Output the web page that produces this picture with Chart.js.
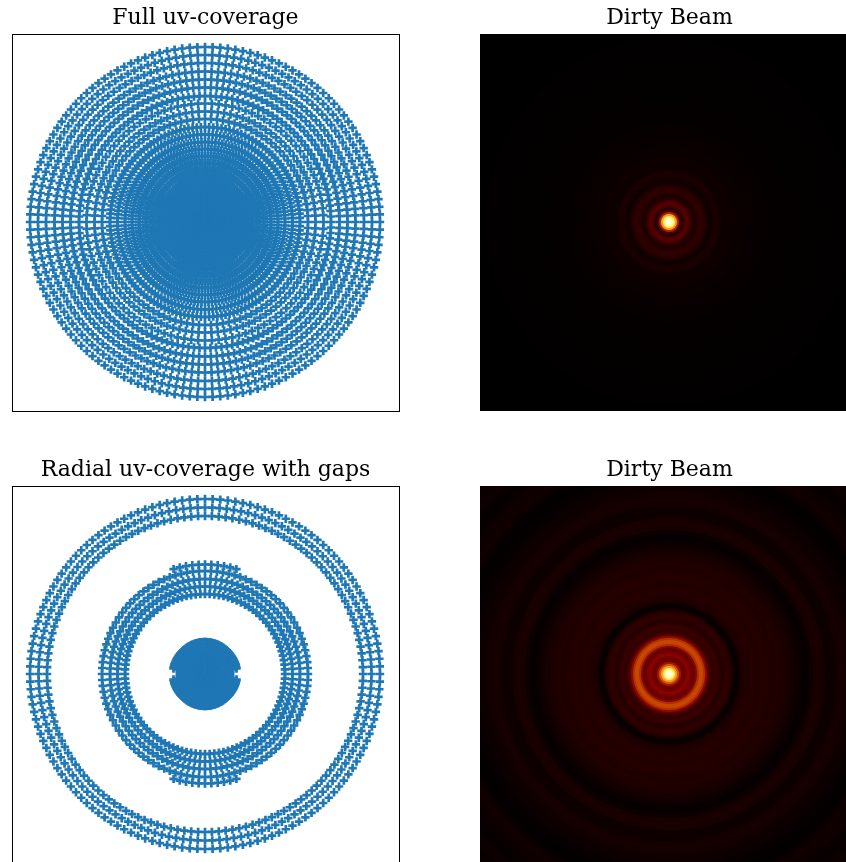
<!DOCTYPE html>
<html>
<head>
<meta charset="utf-8">
<title>uv-coverage and dirty beams</title>
<script src="https://cdn.jsdelivr.net/npm/chart.js@4/dist/chart.umd.min.js"></script>
<style>
    html, body { margin: 0; background: #fff; }
    body { position: relative; width: 846px; height: 862px; overflow: hidden; }
    canvas { position: absolute; }
</style>
</head>
<body>
<canvas id="fullUv" style="left:12px;top:0" width="388" height="412"></canvas>
<canvas id="fullBeam" style="left:480px;top:0" width="380" height="412"></canvas>
<canvas id="gapUv" style="left:12px;top:452px" width="388" height="412"></canvas>
<canvas id="gapBeam" style="left:480px;top:452px" width="380" height="412"></canvas>
<script>
// ring radii, one unit = one reference pixel from the centre
const fullRings = [175, 167, 159, 150.5, 142.5, 134.5, 126, 118.5, 110.5, 103, 95, 87.5, 80, 73, 66, 59, 52,
    45, 41.5, 38, 34.5, 31, 27.5, 24, 20.5, 17, 13.5, 10, 6.5, 3];
const fullStrides = [3, 3, 3, 3, 3, 3, 3, 4, 4, 4, 3, 3, 3, 3, 3, 3, 3,
    3, 3, 3, 3, 3, 3, 3, 3, 3, 3, 3, 3, 3];

const gapRings = [175, 166.5, 158, 103, 95, 87.5, 80, 25, 21.5, 18, 14.5, 11, 7.5, 4, 1];
const gapStrides = [3, 3, 3, 4, 4, 4, 4, 3, 3, 3, 3, 3, 3, 3, 3];

// rings of the gapped panel that only exist near the top and bottom
const capRings = [109.5];
const capHalfAngles = [19];
const capStrides = [4];

// blob rim, missing around left and right
const notchRings = [32, 28.5];
const notchHalfAngles = [10, 10];
const notchStrides = [3, 3];

// outer radius of each beam band
const beamRadii = [2, 4, 6, 8, 10, 12, 14, 16, 18, 20, 22, 24, 26, 28, 30, 32, 34, 36, 38, 40,
    42, 44, 46, 48, 50, 52, 54, 56, 58, 60, 62, 64, 66, 68, 70, 72, 74, 76, 78, 80,
    84, 88, 92, 96, 100, 104, 108, 112, 116, 120, 124, 128, 132, 136, 140, 144, 148, 152, 156, 160,
    164, 168, 172, 176, 180, 184, 188, 192, 196, 200, 204, 208, 212, 216, 220, 224, 228, 232, 236, 240,
    244, 248, 252, 256, 260, 264, 268, 272];

const fullBeamLevels = [.95, .85, .72, .55, .32, .14, .07, .12, .16, .16, .12, .08, .06, .06, .08, .09, .09, .08, .06, .04,
    .03, .035, .045, .05, .05, .04, .03, .025, .025, .03, .03, .03, .025, .02, .02, .02, .02, .02, .018, .015,
    .015, .015, .012, .012, .012, .01, .01, .01, .008, .008, .006, .006, .006, .005, .005, .005, .006, .006, .005, .004,
    .003, .003, .003, .003, .003, .003, .002, .002, .002, .002, .002, .002, .002, .002, .002, .002, .002, .002, .002, .002,
    .002, .002, .002, .002, .002, .002, .002, .002];

const gapBeamLevels = [1, .85, .72, .56, .42, .3, .23, .21, .24, .26, .25, .21, .2, .26, .34, .39, .39, .35, .27, .18,
    .12, .1, .1, .11, .1, .08, .07, .08, .09, .09, .08, .06, .03, .012, .015, .04, .055, .06, .065, .065,
    .07, .07, .065, .07, .07, .065, .06, .065, .06, .05, .045, .035, .025, .015, .012, .025, .045, .05, .045, .03,
    .025, .03, .04, .045, .04, .035, .03, .025, .02, .014, .012, .008, .008, .015, .03, .035, .03, .03, .02, .015,
    .015, .02, .025, .025, .02, .02, .02, .02];

const spokeCount = 432;
const spokes = Array.from({ length: spokeCount }, (_, i) => i);
const beamSpokes = spokes.filter(i => i % 3 === 0);

// degrees away from the vertical axis for a spoke
function offVertical(i) {
    const a = i / spokeCount * 360;
    return Math.min(a, Math.abs(180 - a), 360 - a);
}

function ring(radius, stride, keep) {
    const data = spokes.map(i => (i % stride === 0 && (!keep || keep(i))) ? radius : null);
    return {
        data: data,
        showLine: false,
        clip: 0,
        pointStyle: 'cross',
        pointRadius: 4.2,
        pointBorderWidth: 2.7,
        pointBorderColor: '#1f77b4'
    };
}

// afmhot
function beamColor(level) {
    const c = v => Math.round(255 * Math.max(0, Math.min(1, v)));
    return 'rgb(' + c(2 * level) + ',' + c(2 * level - 0.5) + ',' + c(2 * level - 1) + ')';
}

const framePlugin = {
    id: 'frame',
    afterDraw(chart) {
        const a = chart.chartArea;
        chart.ctx.strokeStyle = '#000';
        chart.ctx.lineWidth = 1;
        chart.ctx.strokeRect(a.left + 0.5, a.top + 0.5, a.width, a.height);
    }
};

function makeChart(id, title, labels, datasets, plugins) {
    return new Chart(document.getElementById(id), {
        type: 'radar',
        data: { labels: labels, datasets: datasets },
        plugins: plugins,
        options: {
            responsive: false,
            animation: false,
            events: [],
            layout: { padding: { right: 1, bottom: 1 } },
            scales: {
                r: { display: false, min: 0, max: 188, pointLabels: { display: false } }
            },
            plugins: {
                legend: { display: false },
                tooltip: { enabled: false },
                title: {
                    display: true,
                    text: title,
                    color: '#000',
                    font: { family: '"DejaVu Serif"', size: 22, weight: 'normal', lineHeight: 1.2 },
                    padding: { top: 5, bottom: 2.6 }
                }
            }
        }
    });
}

function beamDatasets(levels) {
    return beamRadii.map((r, k) => ({
        data: beamSpokes.map(() => r),
        clip: 0,
        fill: 'origin',
        pointRadius: 0,
        borderWidth: 0,
        backgroundColor: beamColor(levels[k])
    }));
}

const fullData = fullRings.map((r, k) => ring(r, fullStrides[k]));
const gapData = gapRings.map((r, k) => ring(r, gapStrides[k]))
    .concat(capRings.map((r, k) => ring(r, capStrides[k], i => offVertical(i) <= capHalfAngles[k])))
    .concat(notchRings.map((r, k) => ring(r, notchStrides[k], i => offVertical(i) <= 90 - notchHalfAngles[k])));

makeChart('fullUv', 'Full uv-coverage', spokes, fullData, [framePlugin]);
makeChart('fullBeam', 'Dirty Beam', beamSpokes, beamDatasets(fullBeamLevels), []);
makeChart('gapUv', 'Radial uv-coverage with gaps', spokes, gapData, [framePlugin]);
makeChart('gapBeam', 'Dirty Beam', beamSpokes, beamDatasets(gapBeamLevels), []);
</script>
</body>
</html>
